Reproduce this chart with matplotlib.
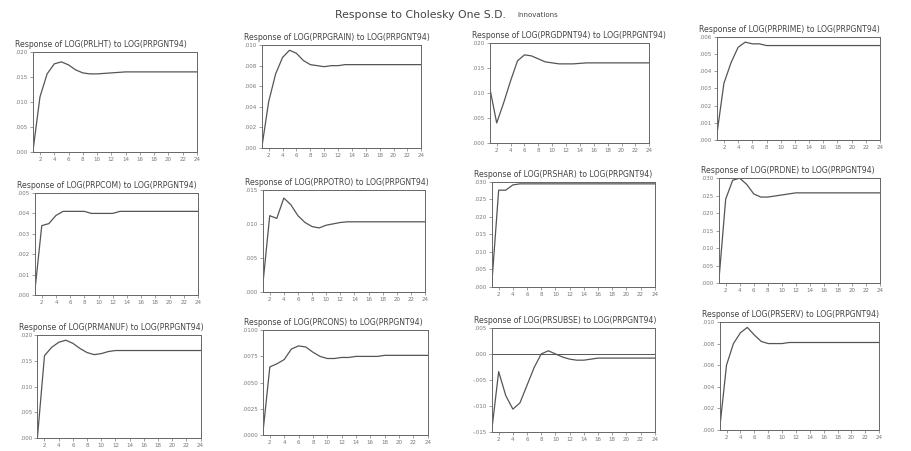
import matplotlib
matplotlib.use("Agg")
import matplotlib.pyplot as plt

periods = list(range(1, 25))
xticks = list(range(2, 25, 2))

titles = [
    "Response of LOG(PRLHT) to LOG(PRPGNT94)",
    "Response of LOG(PRPGRAIN) to LOG(PRPGNT94)",
    "Response of LOG(PRGDPNT94) to LOG(PRPGNT94)",
    "Response of LOG(PRPRIME) to LOG(PRPGNT94)",
    "Response of LOG(PRPCOM) to LOG(PRPGNT94)",
    "Response of LOG(PRPOTRO) to LOG(PRPGNT94)",
    "Response of LOG(PRSHAR) to LOG(PRPGNT94)",
    "Response of LOG(PRDNE) to LOG(PRPGNT94)",
    "Response of LOG(PRMANUF) to LOG(PRPGNT94)",
    "Response of LOG(PRCONS) to LOG(PRPGNT94)",
    "Response of LOG(PRSUBSE) to LOG(PRPGNT94)",
    "Response of LOG(PRSERV) to LOG(PRPGNT94)",
]

resp1 = [0.0000, 0.0110, 0.0156, 0.0176, 0.0180, 0.0174, 0.0164, 0.0158, 0.0156, 0.0156,
         0.0157, 0.0158, 0.0159, 0.0160, 0.0160, 0.0160, 0.0160, 0.0160, 0.0160, 0.0160,
         0.0160, 0.0160, 0.0160, 0.0160]
resp2 = [0.0000, 0.0045, 0.0072, 0.0088, 0.0095, 0.0092, 0.0085, 0.0081, 0.0080, 0.0079,
         0.0080, 0.0080, 0.0081, 0.0081, 0.0081, 0.0081, 0.0081, 0.0081, 0.0081, 0.0081,
         0.0081, 0.0081, 0.0081, 0.0081]
resp3 = [0.0110, 0.0040, 0.0080, 0.0124, 0.0164, 0.0176, 0.0174, 0.0168, 0.0162, 0.0160,
         0.0158, 0.0158, 0.0158, 0.0159, 0.0160, 0.0160, 0.0160, 0.0160, 0.0160, 0.0160,
         0.0160, 0.0160, 0.0160, 0.0160]
resp4 = [0.0003, 0.0033, 0.0045, 0.0054, 0.0057, 0.0056, 0.0056, 0.0055, 0.0055, 0.0055,
         0.0055, 0.0055, 0.0055, 0.0055, 0.0055, 0.0055, 0.0055, 0.0055, 0.0055, 0.0055,
         0.0055, 0.0055, 0.0055, 0.0055]
resp5 = [0.0001, 0.0034, 0.0035, 0.0039, 0.0041, 0.0041, 0.0041, 0.0041, 0.0040, 0.0040,
         0.0040, 0.0040, 0.0041, 0.0041, 0.0041, 0.0041, 0.0041, 0.0041, 0.0041, 0.0041,
         0.0041, 0.0041, 0.0041, 0.0041]
resp6 = [0.0008, 0.0112, 0.0108, 0.0138, 0.0128, 0.0112, 0.0102, 0.0096, 0.0094, 0.0098,
         0.0100, 0.0102, 0.0103, 0.0103, 0.0103, 0.0103, 0.0103, 0.0103, 0.0103, 0.0103,
         0.0103, 0.0103, 0.0103, 0.0103]
resp7 = [0.0000, 0.0276, 0.0276, 0.0291, 0.0294, 0.0294, 0.0294, 0.0294, 0.0294, 0.0294,
         0.0294, 0.0294, 0.0294, 0.0294, 0.0294, 0.0294, 0.0294, 0.0294, 0.0294, 0.0294,
         0.0294, 0.0294, 0.0294, 0.0294]
resp8 = [0.0000, 0.0240, 0.0294, 0.0300, 0.0282, 0.0255, 0.0246, 0.0246, 0.0249, 0.0252,
         0.0255, 0.0258, 0.0258, 0.0258, 0.0258, 0.0258, 0.0258, 0.0258, 0.0258, 0.0258,
         0.0258, 0.0258, 0.0258, 0.0258]
resp9 = [0.0000, 0.0160, 0.0176, 0.0186, 0.0190, 0.0184, 0.0174, 0.0166, 0.0162, 0.0164,
         0.0168, 0.0170, 0.0170, 0.0170, 0.0170, 0.0170, 0.0170, 0.0170, 0.0170, 0.0170,
         0.0170, 0.0170, 0.0170, 0.0170]
resp10 = [0.0000, 0.0065, 0.0068, 0.0072, 0.0082, 0.0085, 0.0084, 0.0079, 0.0075, 0.0073,
          0.0073, 0.0074, 0.0074, 0.0075, 0.0075, 0.0075, 0.0075, 0.0076, 0.0076, 0.0076,
          0.0076, 0.0076, 0.0076, 0.0076]
resp11 = [-0.0150, -0.0034, -0.0080, -0.0106, -0.0094, -0.0060, -0.0026, 0.0000, 0.0006, 0.0000,
          -0.0006, -0.0010, -0.0012, -0.0012, -0.0010, -0.0008, -0.0008, -0.0008, -0.0008, -0.0008,
          -0.0008, -0.0008, -0.0008, -0.0008]
resp12 = [0.0000, 0.0060, 0.0080, 0.0090, 0.0095, 0.0088, 0.0082, 0.0080, 0.0080, 0.0080,
          0.0081, 0.0081, 0.0081, 0.0081, 0.0081, 0.0081, 0.0081, 0.0081, 0.0081, 0.0081,
          0.0081, 0.0081, 0.0081, 0.0081]

responses = [resp1, resp2, resp3, resp4, resp5, resp6, resp7, resp8, resp9, resp10, resp11, resp12]

yticks_list = [
    [0.000, 0.005, 0.010, 0.015, 0.020],
    [0.000, 0.002, 0.004, 0.006, 0.008, 0.010],
    [0.000, 0.005, 0.010, 0.015, 0.020],
    [0.000, 0.001, 0.002, 0.003, 0.004, 0.005, 0.006],
    [0.000, 0.001, 0.002, 0.003, 0.004, 0.005],
    [0.000, 0.005, 0.010, 0.015],
    [0.000, 0.005, 0.010, 0.015, 0.020, 0.025, 0.030],
    [0.000, 0.005, 0.010, 0.015, 0.020, 0.025, 0.030],
    [0.000, 0.005, 0.010, 0.015, 0.020],
    [0.000, 0.0025, 0.005, 0.0075, 0.010],
    [-0.015, -0.010, -0.005, 0.000, 0.005],
    [0.000, 0.002, 0.004, 0.006, 0.008, 0.010],
]
ytick_labels = [
    [".000", ".005", ".010", ".015", ".020"],
    [".000", ".002", ".004", ".006", ".008", ".010"],
    [".000", ".005", ".010", ".015", ".020"],
    [".000", ".001", ".002", ".003", ".004", ".005", ".006"],
    [".000", ".001", ".002", ".003", ".004", ".005"],
    [".000", ".005", ".010", ".015"],
    [".000", ".005", ".010", ".015", ".020", ".025", ".030"],
    [".000", ".005", ".010", ".015", ".020", ".025", ".030"],
    [".000", ".005", ".010", ".015", ".020"],
    [".0000", ".0025", ".0050", ".0075", ".0100"],
    ["-.015", "-.010", "-.005", ".000", ".005"],
    [".000", ".002", ".004", ".006", ".008", ".010"],
]

positions = [
    [0.036, 0.663, 0.180, 0.222],
    [0.287, 0.672, 0.175, 0.228],
    [0.537, 0.683, 0.175, 0.222],
    [0.786, 0.690, 0.179, 0.228],
    [0.038, 0.346, 0.179, 0.226],
    [0.288, 0.353, 0.178, 0.226],
    [0.539, 0.364, 0.179, 0.233],
    [0.788, 0.372, 0.177, 0.233],
    [0.041, 0.029, 0.179, 0.228],
    [0.288, 0.035, 0.181, 0.233],
    [0.539, 0.042, 0.179, 0.231],
    [0.789, 0.047, 0.175, 0.239],
]

fig = plt.figure(figsize=(9.12, 4.51), dpi=100)
fig.patch.set_facecolor("white")
fig.text(0.555, 0.966, "Response to Cholesky One S.D.", ha="right", va="center",
         fontsize=7.8, color="#444444")
fig.text(0.567, 0.966, "Innovations", ha="left", va="center", fontsize=5.0, color="#444444")

linecol = "#555555"
for i in range(12):
    ax = fig.add_axes(positions[i])
    ax.plot(periods, responses[i], color=linecol, lw=0.9)
    yt = yticks_list[i]
    ax.set_xlim(1, 24)
    ax.set_ylim(yt[0], yt[-1])
    if yt[0] < 0 < yt[-1]:
        ax.axhline(0, color=linecol, lw=0.7)
    ax.set_xticks(xticks)
    ax.set_xticklabels([str(t) for t in xticks], fontsize=4.0, color="#666666")
    ax.set_yticks(yt)
    ax.set_yticklabels(ytick_labels[i], fontsize=4.0, color="#666666")
    ax.tick_params(length=2, width=0.5, colors="#777777", pad=1.5)
    for s in ax.spines.values():
        s.set_color("#666666")
        s.set_linewidth(0.7)
    ax.set_title(titles[i], fontsize=5.6, color="#444444", loc="left", pad=3.5, x=-0.11)

fig.savefig("out.png", dpi=100)
